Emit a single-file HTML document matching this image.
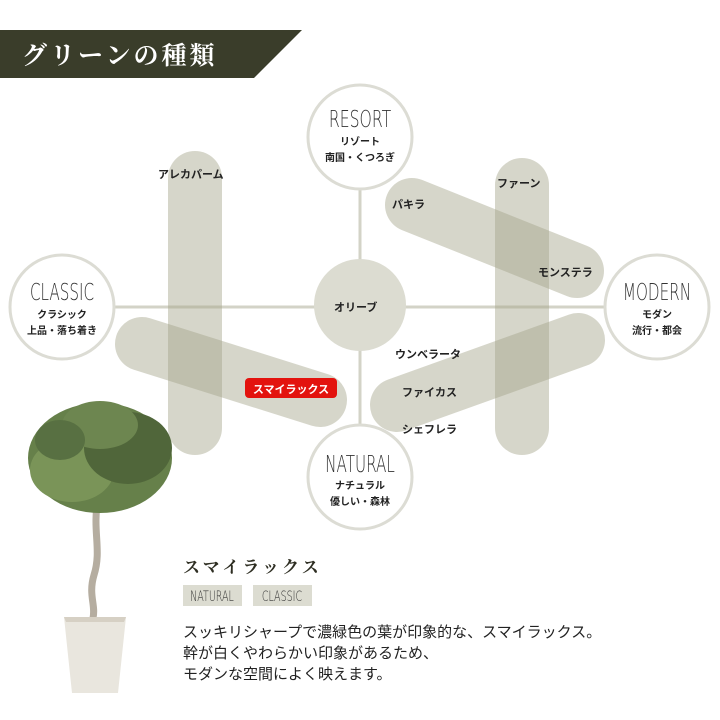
<!DOCTYPE html>
<html><head><meta charset="utf-8"><style>
html,body{margin:0;padding:0;background:#fff;width:720px;height:720px;overflow:hidden}
svg text{font-family:"Liberation Sans","Noto Sans CJK JP",sans-serif}
</style></head><body>
<svg width="720" height="720" viewBox="0 0 720 720" xmlns="http://www.w3.org/2000/svg">
<polygon points="0,30 302,30 254,78 0,78" fill="#3a3d2a"/>
<text x="22" y="64" fill="#fff" font-size="25" font-weight="bold" letter-spacing="3" style="font-family:'Noto Serif CJK SC','Liberation Serif',serif">グリーンの種類</text>

<line x1="112" y1="307" x2="606" y2="307" stroke="#d3d3c7" stroke-width="3"/>
<line x1="360" y1="186" x2="360" y2="428" stroke="#d3d3c7" stroke-width="3"/>
<circle cx="360" cy="305" r="46" fill="#dcdcd1"/>

<g stroke-linecap="round" fill="none" stroke-opacity="0.45" stroke="#a5a58a" stroke-width="54">
<line x1="195" y1="178" x2="195" y2="428"/>
<line x1="522" y1="185" x2="522" y2="428"/>
<line x1="412" y1="205" x2="577" y2="271"/>
<line x1="397" y1="405" x2="578" y2="340"/>
<line x1="142" y1="344" x2="320" y2="400"/>
</g>

<g fill="#fff" stroke="#dcdcd4" stroke-width="3">
<circle cx="360" cy="137" r="52"/>
<circle cx="62" cy="307" r="52"/>
<circle cx="657" cy="307" r="52"/>
<circle cx="360" cy="477" r="52"/>
</g>
<g fill="#222" text-anchor="middle">
<text x="360" y="127" font-size="23" fill="#333" transform="translate(360 0) scale(0.68 1) translate(-360 0)" style="font-family:'DejaVu Sans','Liberation Sans',sans-serif;font-weight:200">RESORT</text>
<text x="360" y="145" font-size="10" font-weight="bold">リゾート</text>
<text x="360" y="161" font-size="10" font-weight="bold">南国・くつろぎ</text>
<text x="62" y="300" font-size="23" fill="#333" transform="translate(62 0) scale(0.66 1) translate(-62 0)" style="font-family:'DejaVu Sans','Liberation Sans',sans-serif;font-weight:200">CLASSIC</text>
<text x="62" y="318" font-size="10" font-weight="bold">クラシック</text>
<text x="62" y="334" font-size="10" font-weight="bold">上品・落ち着き</text>
<text x="657" y="300" font-size="23" fill="#333" transform="translate(657 0) scale(0.66 1) translate(-657 0)" style="font-family:'DejaVu Sans','Liberation Sans',sans-serif;font-weight:200">MODERN</text>
<text x="657" y="318" font-size="10" font-weight="bold">モダン</text>
<text x="657" y="334" font-size="10" font-weight="bold">流行・都会</text>
<text x="360" y="472" font-size="23" fill="#333" transform="translate(360 0) scale(0.66 1) translate(-360 0)" style="font-family:'DejaVu Sans','Liberation Sans',sans-serif;font-weight:200">NATURAL</text>
<text x="360" y="489" font-size="10" font-weight="bold">ナチュラル</text>
<text x="360" y="505" font-size="10" font-weight="bold">優しい・森林</text>
</g>
<g fill="#222" font-size="11" font-weight="bold">
<text x="158" y="178">アレカパーム</text>
<text x="497" y="187">ファーン</text>
<text x="392" y="208">パキラ</text>
<text x="538" y="276">モンステラ</text>
<text x="334" y="311">オリーブ</text>
<text x="395" y="358">ウンベラータ</text>
<text x="402" y="396">ファイカス</text>
<text x="402" y="433">シェフレラ</text>
</g>
<rect x="245" y="378" width="92" height="20" rx="4" fill="#e3130e"/>
<text x="291" y="393" fill="#fff" font-size="11" font-weight="bold" text-anchor="middle">スマイラックス</text>

<!-- plant -->
<path d="M98,500 C92,530 102,550 94,575 C88,595 96,605 93,618" stroke="#b5ada0" stroke-width="7" fill="none"/>
<g>
<ellipse cx="100" cy="458" rx="72" ry="55" fill="#66804a"/>
<ellipse cx="72" cy="470" rx="42" ry="32" fill="#7a9458"/>
<ellipse cx="128" cy="448" rx="44" ry="36" fill="#50663a"/>
<ellipse cx="100" cy="425" rx="38" ry="24" fill="#6d8650"/>
<ellipse cx="60" cy="440" rx="25" ry="20" fill="#587042"/>
</g>
<polygon points="64,617 126,617 118,693 72,693" fill="#e9e6de"/>
<polygon points="64,617 126,617 124,622 66,622" fill="#d6d0c4"/>

<text x="183" y="573" font-size="17" font-weight="bold" fill="#2e2e22" letter-spacing="3" style="font-family:'Noto Serif CJK SC','Liberation Serif',serif">スマイラックス</text>
<rect x="183" y="585" width="59" height="21" fill="#dcdcd1"/>
<rect x="253" y="585" width="59" height="21" fill="#dcdcd1"/>
<text x="212" y="601" font-size="14" fill="#333" text-anchor="middle" transform="translate(212 0) scale(0.68 1) translate(-212 0)" style="font-family:'DejaVu Sans',sans-serif;font-weight:200">NATURAL</text>
<text x="282" y="601" font-size="14" fill="#333" text-anchor="middle" transform="translate(282 0) scale(0.68 1) translate(-282 0)" style="font-family:'DejaVu Sans',sans-serif;font-weight:200">CLASSIC</text>
<g font-size="15" fill="#222">
<text x="183" y="637">スッキリシャープで濃緑色の葉が印象的な、スマイラックス。</text>
<text x="183" y="658">幹が白くやわらかい印象があるため、</text>
<text x="183" y="679">モダンな空間によく映えます。</text>
</g>
</svg>
</body></html>
